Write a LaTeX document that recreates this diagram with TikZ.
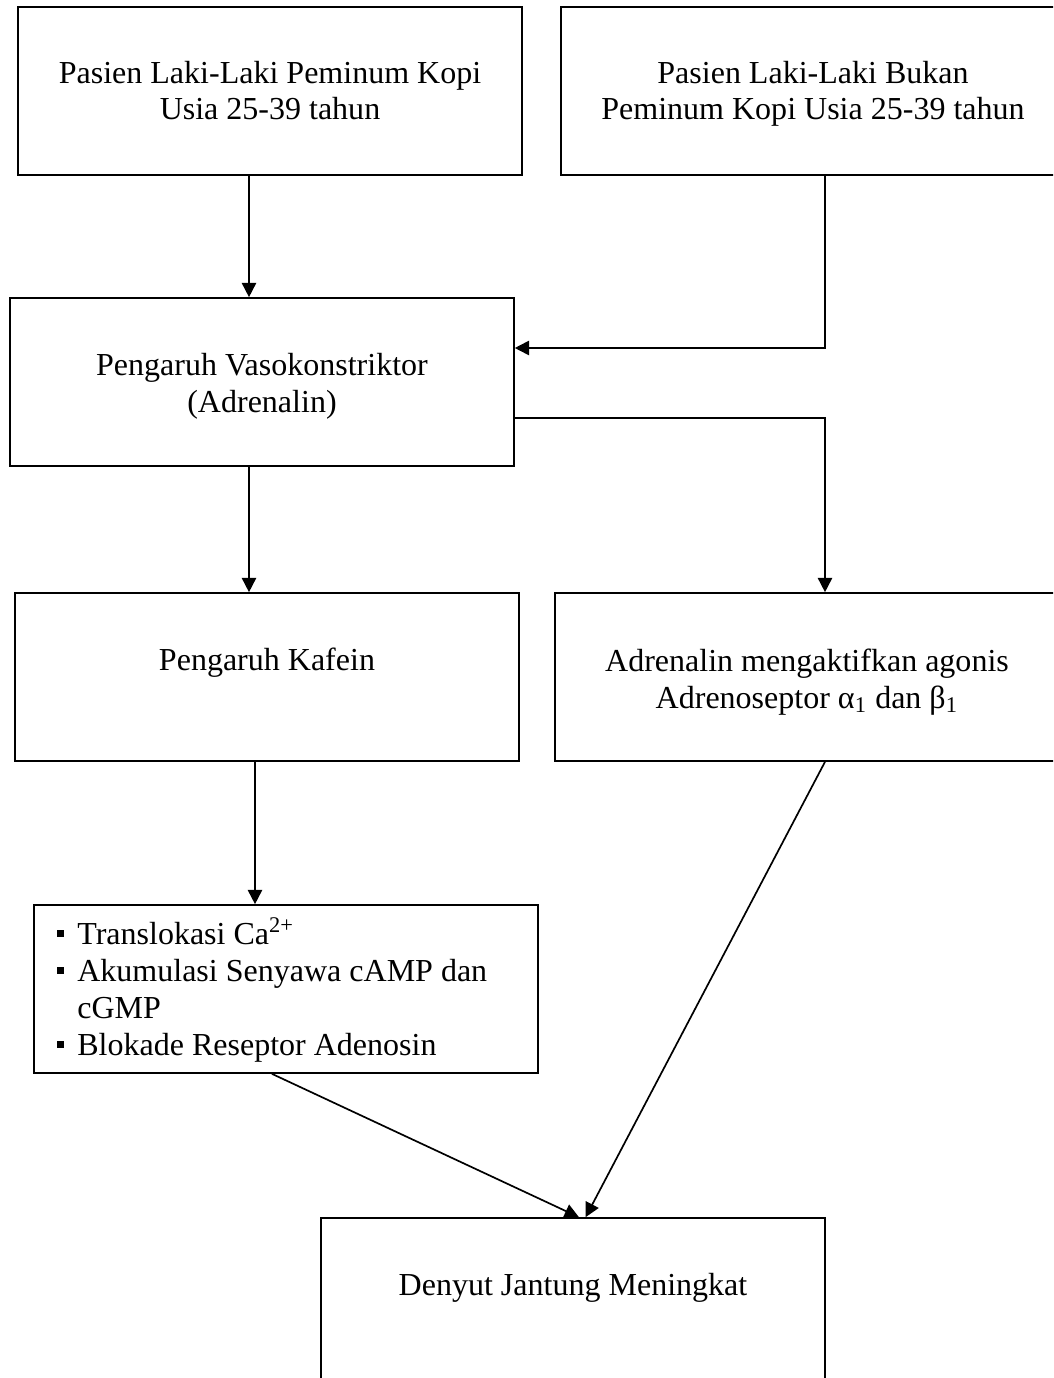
\documentclass[tikz,border=0pt]{standalone}
\usepackage{fontspec}
\setmainfont{Liberation Serif}
\usepackage{tikz}
\usetikzlibrary{arrows.meta,positioning}
\tikzset{
  kotak/.style={draw,line width=0.65pt,minimum width=6.804cm,minimum height=2.268cm,inner sep=0pt},
  teks/.style={align=center,inner sep=0pt},
  daftar/.style={align=left,inner sep=0pt},
  panah/.style={line width=0.65pt,-{Triangle[length=5.5pt,width=5.5pt]}},
}
\newcommand{\butir}{\makebox[8pt][l]{\rule[2.8pt]{2.7pt}{2.7pt}}}

\begin{document}
\begin{tikzpicture}[x=0.0135cm,y=-0.0135cm,font=\fontsize{12.3}{14.2}\selectfont]
  \useasboundingbox (0,0) rectangle (1053,1378);
  \clip (0,0) rectangle (1053,1378);
  % kotak
  \node[kotak] (kopi) at (270,91) {};
  \node[kotak] (bukan) at (813,91) {};
  \node[kotak] (vaso) at (262,382) {};
  \node[kotak] (kafein) at (267,677) {};
  \node[kotak] (adren) at (807,677) {};
  \node[kotak] (efek) at (286,989) {};
  \node[kotak] (denyut) at (573,1302) {};
  % teks (base = baris terakhir)
  \node[teks,anchor=base] (tkopi) at (270,120) {Pasien Laki-Laki Peminum Kopi\\ Usia 25-39 tahun};
  \node[teks,anchor=base] (tbukan) at (813,120) {Pasien Laki-Laki Bukan\\ Peminum Kopi Usia 25-39 tahun};
  \node[teks,anchor=base] (tvaso) at (262,412) {Pengaruh Vasokonstriktor\\ (Adrenalin)};
  \node[teks,anchor=base] (tkafein) at (267,670) {Pengaruh Kafein};
  \node[teks,anchor=base] (tadren) at (807,708)
    {Adrenalin mengaktifkan agonis\\ Adrenoseptor α\textsubscript{1} dan β\textsubscript{1}};
  \node[daftar,anchor=base west] (tefek) at (56,1055)
    {\butir Translokasi Ca\textsuperscript{2+}\\
     \butir Akumulasi Senyawa cAMP dan\\
     \hspace*{8pt}cGMP\\
     \butir Blokade Reseptor Adenosin};
  \node[teks,anchor=base] (tdenyut) at (573,1295) {Denyut Jantung Meningkat};
  % jalur panah
  \coordinate (kiri) at (249,0);
  \coordinate (tengah) at (255,0);
  \coordinate (kanan) at (825,0);
  \coordinate (masuk) at (0,348);
  \coordinate (keluar) at (0,418);
  \draw[panah] (kiri |- kopi.south) -- (kiri |- vaso.north);
  \draw[panah] (kanan |- bukan.south) |- (vaso.east |- masuk);
  \draw[panah] (vaso.east |- keluar) -| (kanan |- adren.north);
  \draw[panah] (kiri |- vaso.south) -- (kiri |- kafein.north);
  \draw[panah] (tengah |- kafein.south) -- (tengah |- efek.north);
  \draw[panah] ([xshift=-0.19cm]efek.south) -- ([xshift=0.08cm]denyut.north);
  \draw[panah] (kanan |- adren.south) -- ([xshift=0.17cm]denyut.north);
\end{tikzpicture}
\end{document}
